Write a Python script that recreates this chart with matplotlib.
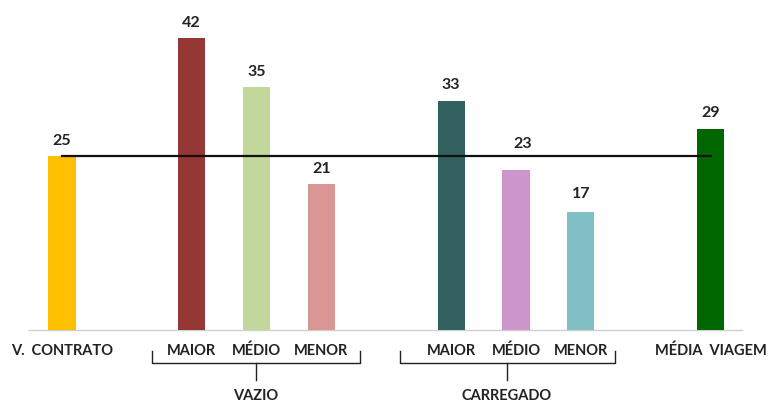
import matplotlib.pyplot as plt

# bar data
categories = ['V.  CONTRATO', 'MAIOR', 'MÉDIO', 'MENOR', 'MAIOR', 'MÉDIO', 'MENOR', 'MÉDIA  VIAGEM']
values = [25, 42, 35, 21, 33, 23, 17, 29]
positions = [0, 2, 3, 4, 6, 7, 8, 10]
colors = ['#FFC000', '#953735', '#C3D69B', '#D99694', '#31605F', '#CC95CC', '#80BFC4', '#006600']
groups = ['VAZIO', 'CARREGADO']
contract = values[0]

plt.rcParams['font.family'] = ['Lato', 'DejaVu Sans']

fig = plt.figure(figsize=(7.68, 4.03), dpi=100)
ax = fig.add_axes([0, 0, 1, 1])
ax.set_xlim(-0.956, 10.886)
ax.set_ylim(-10.5, 47.5)
ax.axis('off')

ax.bar(positions, values, width=0.42, color=colors, zorder=2)
ax.hlines(0, -0.525, 10.5, color='#d0d0d0', lw=1, zorder=1)

# reference line at contract value
ax.plot([positions[0], positions[-1]], [contract, contract], color='#111111', lw=1.6, zorder=3)

# value labels
for p, v in zip(positions, values):
    dx, dy = 0, 1.2
    if v == 23:
        dx, dy = 0.1, 2.8
    elif v == 17:
        dy = 1.5
    ax.text(p + dx, v + dy, str(v), ha='center', va='bottom', fontsize=11.5,
            fontweight='bold', color='#222222')

for p, c in zip(positions, categories):
    ax.text(p, -3.0, c, ha='center', va='center', fontsize=10.5, fontweight='bold',
            color='#222222')

# group brackets: (left, middle, right)
brackets = [(1.39, 2.99, 4.59), (5.21, 6.86, 8.53)]
for g, (x0, xm, x1) in zip(groups, brackets):
    ax.plot([x0, x0, x1, x1], [-3.0, -4.75, -4.75, -3.0], color='#222222', lw=1)
    ax.plot([xm, xm], [-4.75, -7.2], color='#222222', lw=1)
    ax.text(xm, -9.5, g, ha='center', va='center', fontsize=10.5, fontweight='bold',
            color='#222222')

fig.savefig('out.png', dpi=100)
